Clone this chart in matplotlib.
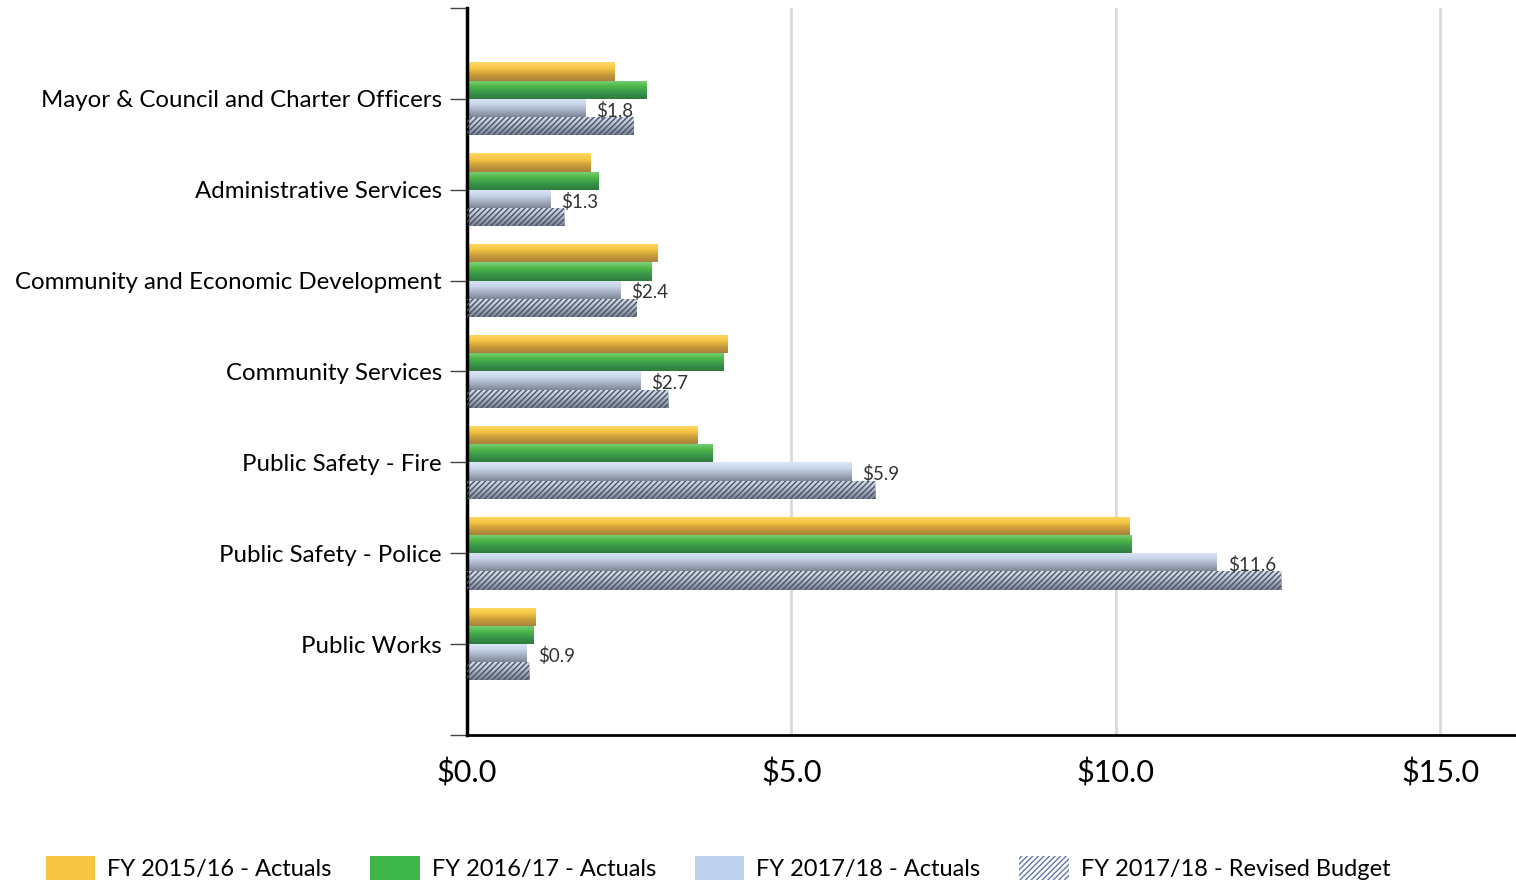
import numpy as np
import matplotlib.pyplot as plt
from matplotlib.colors import LinearSegmentedColormap
from matplotlib.patches import Patch

plt.rcParams['font.family'] = ['Lato', 'DejaVu Sans']
plt.rcParams['hatch.linewidth'] = 1.0

# data (millions of $)
departments = ['Mayor & Council and Charter Officers', 'Administrative Services',
               'Community and Economic Development', 'Community Services',
               'Public Safety - Fire', 'Public Safety - Police', 'Public Works']
fy1516_actuals = [2.28, 1.90, 2.94, 4.02, 3.55, 10.21, 1.05]
fy1617_actuals = [2.76, 2.02, 2.85, 3.96, 3.78, 10.25, 1.02]
fy1718_actuals = [1.82, 1.28, 2.36, 2.67, 5.92, 11.56, 0.92]
fy1718_revised = [2.57, 1.50, 2.62, 3.10, 6.29, 12.55, 0.96]
series_names = ['FY 2015/16 - Actuals', 'FY 2016/17 - Actuals',
                'FY 2017/18 - Actuals', 'FY 2017/18 - Revised Budget']
xticks = [0, 5, 10, 15]

# light top -> dark bottom gradients for each series
gradients = [
    ['#FFD966', '#F6C544', '#C89B3A', '#A8823A'],
    ['#7FD17A', '#4CB848', '#38964A', '#2F7A3C'],
    ['#DCE6F5', '#C6D4EA', '#A4AEC0', '#7E8696'],
    ['#D8DFEA', '#C0C9D8', '#9CA5B6', '#7C8495'],
]

fig = plt.figure(figsize=(15.16, 8.82), dpi=100)
ax = fig.add_axes([0.308, 0.1667, 0.692, 0.8243])

y = np.arange(len(departments))
h = 0.2
series = [fy1516_actuals, fy1617_actuals, fy1718_actuals, fy1718_revised]
grad_img = np.linspace(0, 1, 64).reshape(-1, 1)

for i, vals in enumerate(series):
    offs = (i - 1.5) * h
    cmap = LinearSegmentedColormap.from_list('g%d' % i, gradients[i])
    bars = ax.barh(y + offs, vals, height=h, color=gradients[i][1], zorder=2)
    for b in bars:
        x0, y0 = b.get_x(), b.get_y()
        im = ax.imshow(grad_img, cmap=cmap, aspect='auto', origin='upper',
                       extent=[x0, x0 + b.get_width(), y0 + h, y0], zorder=2.5)
        im.set_clip_path(b)
    if i == 3:
        ax.barh(y + offs, vals, height=h, facecolor='none', edgecolor='#4A5365',
                hatch='//////', linewidth=0, zorder=3)

# data labels on FY 2017/18 actuals
for yi, v in zip(y, fy1718_actuals):
    ax.annotate('$%.1f' % v, xy=(v, yi + 0.5 * h), xytext=(8, -2),
                textcoords='offset points', va='center', ha='left',
                fontsize=13.5, color='#333333', zorder=4)

ax.set_xlim(0, 16.17)
ax.set_ylim(7, -1)
ax.set_yticks(y)
ax.set_yticklabels(departments, fontsize=17.3)
ax.set_yticks([-1, 7], minor=True)
ax.tick_params(axis='y', which='both', length=12, width=1, color='#444444', pad=6)
ax.set_xticks(xticks)
ax.set_xticklabels(['$%.1f' % t for t in xticks], fontsize=22)
ax.tick_params(axis='x', length=0, pad=17)

for t in xticks[1:]:
    ax.axvline(t, color='#D9D9D9', linewidth=2, zorder=1)

for s in ['top', 'right']:
    ax.spines[s].set_visible(False)
ax.spines['left'].set_linewidth(2.5)
ax.spines['bottom'].set_linewidth(2)

handles = [Patch(facecolor='#F8C444'), Patch(facecolor='#3DB549'),
           Patch(facecolor='#BED1EC'),
           Patch(facecolor='white', edgecolor='#5F7AA6', hatch='//////', linewidth=0)]
fig.legend(handles, series_names, loc='lower left', bbox_to_anchor=(0.016, -0.022),
           ncol=4, frameon=False, fontsize=17, handlelength=2.1, handleheight=1.15,
           columnspacing=1.65, handletextpad=0.5)

fig.savefig('out.png', dpi=100)
